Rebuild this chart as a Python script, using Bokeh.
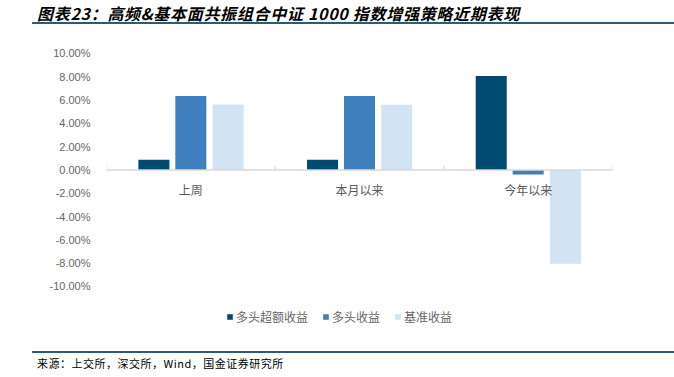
from bokeh.plotting import figure
from bokeh.layouts import column
from bokeh.models import (ColumnDataSource, Range1d, FixedTicker, PrintfTickFormatter,
                          Legend, LegendItem, Span, Div)
from bokeh.core.properties import value
from bokeh.transform import dodge
from bokeh.embed import file_html
from bokeh.resources import INLINE

categories = ["上周", "本月以来", "今年以来"]
excess = [0.88, 0.88, 8.05]
long_ret = [6.33, 6.33, -0.40]
bench = [5.60, 5.58, -8.05]
series_names = ["多头超额收益", "多头收益", "基准收益"]
colors = ["#014A6F", "#407FBE", "#D2E3F3"]
y_ticks = [-10, -8, -6, -4, -2, 0, 2, 4, 6, 8, 10]
title_text = "图表23：高频&基本面共振组合中证 1000 指数增强策略近期表现"
source_text = "来源：上交所，深交所，Wind，国金证券研究所"

W = 674
RULE_COLOR = "#2B5A7B"

# ---- title strip ----
title_div = Div(
    text=(f'<div style="position:relative;width:{W}px;height:30px;">'
          f'<div style="position:absolute;left:37px;top:4px;line-height:18px;'
          f'letter-spacing:0.7px;font-family:\'Noto Sans CJK SC\';font-size:16px;'
          f'font-weight:bold;font-style:italic;color:#000;white-space:nowrap;">{title_text}</div>'
          f'<div style="position:absolute;left:32px;top:22px;width:{W - 32}px;height:2px;'
          f'background:{RULE_COLOR};"></div></div>'),
    width=W, height=30, margin=0)

# ---- main chart ----
n = len(categories)
xs = [i + 0.5 for i in range(n)]
seps = list(range(n + 1))
src = ColumnDataSource(dict(x=xs, cat=categories, excess=excess, long_ret=long_ret, bench=bench))

p = figure(width=W, height=310, output_backend="svg", toolbar_location=None,
           x_range=Range1d(0, n), y_range=Range1d(-13.78, 10.5),
           x_axis_location=None,
           min_border_left=106, min_border_right=62, min_border_top=17,
           min_border_bottom=10, outline_line_color=None, margin=0)
p.grid.visible = False

r1 = p.vbar(x=dodge("x", -0.219, range=p.x_range), top="excess", bottom=0, width=0.184,
            source=src, fill_color=colors[0], line_color=None)
r2 = p.vbar(x=dodge("x", 0.0, range=p.x_range), top="long_ret", bottom=0, width=0.184,
            source=src, fill_color=colors[1], line_color=None)
r3 = p.vbar(x=dodge("x", 0.221, range=p.x_range), top="bench", bottom=0, width=0.184,
            source=src, fill_color=colors[2], line_color=None)

p.add_layout(Span(location=0, dimension="width", line_color="#D9D9D9", line_width=1.5))
p.segment(x0=seps, y0=[0] * len(seps), x1=seps, y1=[0.35] * len(seps),
          line_color="#D9D9D9", line_width=1.2)
p.text(x="x", y=0, text="cat", source=src, y_offset=20, text_align="center",
       text_baseline="middle", text_font=value("Noto Sans CJK SC"),
       text_font_size="12px", text_color="#595959")

yax = p.yaxis[0]
yax.ticker = FixedTicker(ticks=y_ticks)
yax.formatter = PrintfTickFormatter(format="%.2f%%")
yax.axis_line_color = None
yax.major_tick_line_color = None
yax.minor_tick_line_color = None
yax.major_label_text_font = "Liberation Sans"
yax.major_label_text_font_size = "11px"
yax.major_label_text_color = "#666666"
yax.major_label_standoff = 10

legend = Legend(items=[LegendItem(label=nm, renderers=[r]) for nm, r in
                       zip(series_names, [r1, r2, r3])],
                orientation="horizontal", location=(120, 5),
                glyph_width=7, glyph_height=7, label_standoff=3, spacing=14,
                label_height=14,
                label_text_font="Noto Sans CJK SC", label_text_font_size="12px",
                label_text_color="#666666", border_line_color=None,
                background_fill_alpha=0, padding=0, margin=0)
p.add_layout(legend)

# ---- source strip ----
source_div = Div(
    text=(f'<div style="position:relative;width:{W}px;height:37px;">'
          f'<div style="position:absolute;left:32px;top:11px;width:{W - 32}px;height:2px;'
          f'background:{RULE_COLOR};"></div>'
          f'<div style="position:absolute;left:37px;top:15px;line-height:16px;'
          f'letter-spacing:0.5px;font-family:\'Noto Sans CJK SC\';font-size:11px;'
          f'color:#000;white-space:nowrap;">{source_text}</div></div>'),
    width=W, height=37, margin=0)

layout = column(title_div, p, source_div, spacing=0)
open("out.html", "w").write(file_html(layout, INLINE))
